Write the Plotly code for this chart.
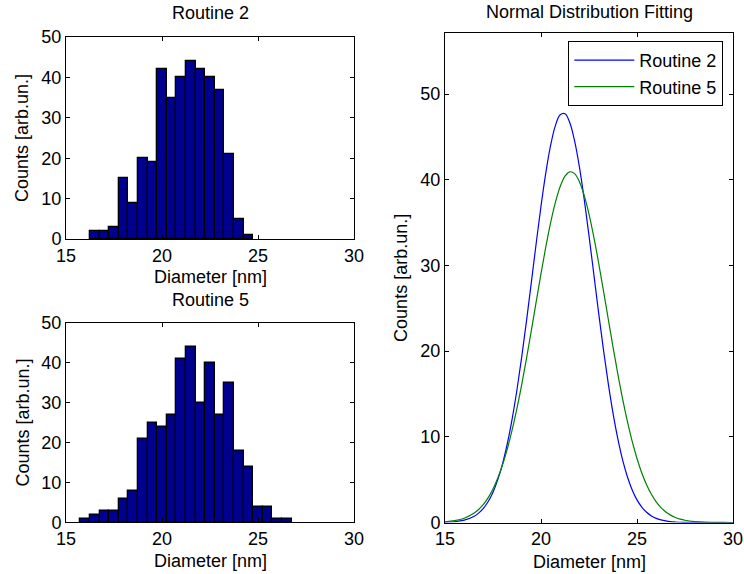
import plotly.graph_objects as go

# ---------------- data ----------------
# Routine 2 histogram (bin centres in nm, counts)
r2_centers = [16.5, 17.0, 17.5, 18.0, 18.5, 19.0, 19.5, 20.0, 20.5, 21.0, 21.5,
              22.0, 22.5, 23.0, 23.5, 24.0, 24.5]
r2_counts = [2, 2, 3, 15, 9, 20, 19, 42, 35, 40, 44, 42, 40, 37, 21, 5, 1]

# Routine 5 histogram
r5_centers = [16.0, 16.5, 17.0, 17.5, 18.0, 18.5, 19.0, 19.5, 20.0, 20.5, 21.0,
              21.5, 22.0, 22.5, 23.0, 23.5, 24.0, 24.5, 25.0, 25.5, 26.0, 26.5]
r5_counts = [1, 2, 3, 3, 6, 8, 21, 25, 24, 27, 41, 44, 30, 40, 27, 35, 18, 14,
             4, 4, 1, 1]

# Normal distribution fits
fit_x = [15.0, 15.5, 16.0, 16.5, 16.75, 17.0, 17.25, 17.5, 17.75, 18.0, 18.25,
         18.5, 18.75, 19.0, 19.25, 19.5, 19.75, 20.0, 20.25, 20.5, 20.75, 21.0,
         21.25, 21.5, 21.75, 22.0, 22.25, 22.5, 22.75, 23.0, 23.25, 23.5, 23.75,
         24.0, 24.25, 24.5, 24.75, 25.0, 25.25, 25.5, 25.75, 26.0, 26.25, 26.5,
         26.75, 27.0, 27.25, 27.5, 28.0, 28.5, 29.0, 29.5, 30.0]
fit_r2 = [0.03, 0.09, 0.27, 0.70, 1.09, 1.65, 2.45, 3.54, 5.00, 6.88, 9.25,
          12.13, 15.52, 19.38, 23.62, 28.09, 32.60, 36.92, 40.81, 44.01, 46.33, 47.59,
          47.71, 46.67, 44.55, 41.51, 37.74, 33.48, 28.99, 24.50, 20.20, 16.26, 12.77,
          9.79, 7.31, 5.34, 3.80, 2.64, 1.79, 1.19, 0.77, 0.48, 0.30, 0.18,
          0.10, 0.06, 0.03, 0.02, 0.01, 0.0, 0.0, 0.0, 0.0]
fit_r5 = [0.09, 0.22, 0.50, 1.07, 1.52, 2.12, 2.91, 3.92, 5.20, 6.76, 8.63,
          10.83, 13.35, 16.16, 19.22, 22.45, 25.77, 29.05, 32.16, 34.98, 37.37, 39.22,
          40.43, 40.93, 40.72, 39.78, 38.18, 36.00, 33.33, 30.32, 27.09, 23.78, 20.50,
          17.36, 14.44, 11.80, 9.47, 7.47, 5.78, 4.40, 3.29, 2.41, 1.74, 1.23,
          0.86, 0.59, 0.39, 0.26, 0.11, 0.04, 0.02, 0.01, 0.0]

x_ticks = [15, 20, 25, 30]
y_ticks = [0, 10, 20, 30, 40, 50]

# ---------------- figure ----------------
W, H = 744, 574
FONT = "Liberation Sans, Arial, Helvetica, sans-serif"
FS = 18
BAR_COLOR = "rgb(0,0,143)"

fig = go.Figure()

fig.add_trace(go.Bar(x=r2_centers, y=r2_counts, width=0.5, xaxis="x", yaxis="y",
                     marker=dict(color=BAR_COLOR, line=dict(color="black", width=1.3)),
                     showlegend=False))
fig.add_trace(go.Bar(x=r5_centers, y=r5_counts, width=0.5, xaxis="x2", yaxis="y2",
                     marker=dict(color=BAR_COLOR, line=dict(color="black", width=1.3)),
                     showlegend=False))
fig.add_trace(go.Scatter(x=fit_x, y=fit_r2, mode="lines", name="Routine 2",
                         xaxis="x3", yaxis="y3", line=dict(color="rgb(0,0,255)", width=1.2, shape="spline")))
fig.add_trace(go.Scatter(x=fit_x, y=fit_r5, mode="lines", name="Routine 5",
                         xaxis="x3", yaxis="y3", line=dict(color="rgb(0,128,0)", width=1.2, shape="spline")))


def px_x(p):
    return p / W


def px_y(p):
    return 1 - p / H


axis_common = dict(showline=True, linecolor="black", linewidth=1, mirror="ticks",
                   ticks="inside", ticklen=4, tickcolor="black", tickwidth=1,
                   showgrid=False, zeroline=False, automargin=False,
                   tickfont=dict(family=FONT, size=FS, color="black"))

# pixel boxes
L_X = (66, 354)
TOP_Y = (37, 239)
BOT_Y = (322.7, 522.3)
R_X = (445, 733)
R_Y = (33.3, 522.5)

fig.update_layout(
    template=None,
    width=W, height=H,
    autosize=False,
    margin=dict(l=0, r=0, t=0, b=0, pad=0, autoexpand=False),
    paper_bgcolor="white", plot_bgcolor="white",
    bargap=0,
    font=dict(family=FONT, size=FS, color="black"),
    xaxis=dict(domain=[px_x(L_X[0]), px_x(L_X[1])], anchor="y", range=[15, 30],
               tickvals=x_ticks, **axis_common),
    yaxis=dict(domain=[px_y(TOP_Y[1]), px_y(TOP_Y[0])], anchor="x", range=[0, 50],
               tickvals=y_ticks, **axis_common),
    xaxis2=dict(domain=[px_x(L_X[0]), px_x(L_X[1])], anchor="y2", range=[15, 30],
                tickvals=x_ticks, **axis_common),
    yaxis2=dict(domain=[px_y(BOT_Y[1]), px_y(BOT_Y[0])], anchor="x2", range=[0, 50],
                tickvals=y_ticks, **axis_common),
    xaxis3=dict(domain=[px_x(R_X[0]), px_x(R_X[1])], anchor="y3", range=[15, 30],
                tickvals=x_ticks, **axis_common),
    yaxis3=dict(domain=[px_y(R_Y[1]), px_y(R_Y[0])], anchor="x3", range=[0, 57.1],
                tickvals=y_ticks, **axis_common),
    legend=dict(x=px_x(723.3), y=px_y(41), xanchor="right", yanchor="top",
                bgcolor="white", bordercolor="black", borderwidth=1,
                itemwidth=60,
                font=dict(family=FONT, size=FS, color="black"),
                tracegroupgap=0),
)

ann = []


def text(t, xp, yp, angle=0):
    ann.append(dict(text=t, x=px_x(xp), y=px_y(yp), xref="paper", yref="paper",
                    xanchor="center", yanchor="middle", showarrow=False,
                    textangle=angle, font=dict(family=FONT, size=FS, color="black")))


lc = (L_X[0] + L_X[1]) / 2
rc = (R_X[0] + R_X[1]) / 2
text("Routine 2", lc, 13)
text("Routine 5", lc, 299.5)
text("Normal Distribution Fitting", rc, 12)
text("Diameter [nm]", lc, 277.3)
text("Diameter [nm]", lc, 560.8)
text("Diameter [nm]", rc, 561.5)
text("Counts [arb.un.]", 22, (TOP_Y[0] + TOP_Y[1]) / 2, -90)
text("Counts [arb.un.]", 22, (BOT_Y[0] + BOT_Y[1]) / 2, -90)
text("Counts [arb.un.]", 401, (R_Y[0] + R_Y[1]) / 2, -90)
fig.update_layout(annotations=ann)

fig.write_html("out.html")
